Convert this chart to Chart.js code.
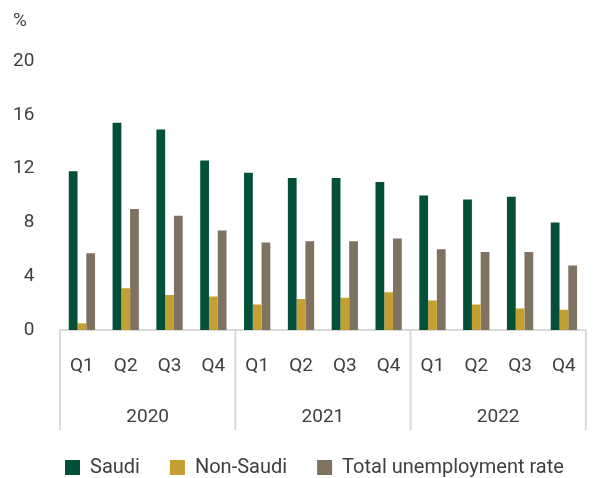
<!DOCTYPE html>
<html>
<head>
<meta charset="utf-8">
<script src="https://cdn.jsdelivr.net/npm/chart.js@4.4.1/dist/chart.umd.min.js"></script>
<style>
  body { margin: 0; background: #fff; }
  #wrap { width: 601px; height: 478px; }
</style>
</head>
<body>
<div id="wrap"><canvas id="unempChart" width="601" height="478"></canvas></div>
<script>
// dados
const quarters = ['Q1', 'Q2', 'Q3', 'Q4', 'Q1', 'Q2', 'Q3', 'Q4', 'Q1', 'Q2', 'Q3', 'Q4'];
const years = ['2020', '2021', '2022'];
const saudi = [11.8, 15.4, 14.9, 12.6, 11.7, 11.3, 11.3, 11.0, 10.0, 9.7, 9.9, 8.0];
const nonSaudi = [0.5, 3.1, 2.6, 2.5, 1.9, 2.3, 2.4, 2.8, 2.2, 1.9, 1.6, 1.5];
const total = [5.7, 9.0, 8.5, 7.4, 6.5, 6.6, 6.6, 6.8, 6.0, 5.8, 5.8, 4.8];
const yTicks = [0, 4, 8, 12, 16, 20];

const textColor = '#404040';
const lineColor = '#d9d9d9';

// linhas separadoras e rótulos dos anos abaixo dos trimestres
const yearAxis = {
    id: 'yearAxis',
    afterDraw(chart) {
        const { ctx, chartArea } = chart;
        const x = chart.scales.x;
        const perYear = quarters.length / years.length;
        const edges = [chartArea.left];
        for (let i = 1; i < years.length; i++) {
            edges.push((x.getPixelForValue(i * perYear - 1) + x.getPixelForValue(i * perYear)) / 2);
        }
        edges.push(chartArea.right);

        ctx.save();
        ctx.strokeStyle = lineColor;
        ctx.lineWidth = 2;
        edges.forEach(e => {
            ctx.beginPath();
            ctx.moveTo(e, chartArea.bottom);
            ctx.lineTo(e, chartArea.bottom + 100);
            ctx.stroke();
        });
        ctx.fillStyle = textColor;
        ctx.font = '19px Roboto';
        ctx.textAlign = 'center';
        ctx.textBaseline = 'middle';
        years.forEach((y, i) => {
            ctx.fillText(y, (edges[i] + edges[i + 1]) / 2, chartArea.bottom + 87);
        });
        // unidade no topo do eixo y
        ctx.textAlign = 'left';
        ctx.fillText('%', 13, 21);
        ctx.restore();
    }
};

const ctx = document.getElementById('unempChart').getContext('2d');
const unempChart = new Chart(ctx, {
    type: 'bar',
    data: {
        labels: quarters,
        datasets: [
            { label: 'Saudi', data: saudi, backgroundColor: '#03503a' },
            { label: 'Non-Saudi', data: nonSaudi, backgroundColor: '#c4a033' },
            { label: 'Total unemployment rate', data: total, backgroundColor: '#7f7261' }
        ]
    },
    options: {
        responsive: false,
        animation: false,
        layout: { padding: { left: 35, right: 5, top: 61, bottom: -9.5 } },
        datasets: { bar: { categoryPercentage: 0.6, barPercentage: 1.0 } },
        scales: {
            x: {
                grid: { display: false, drawTicks: false },
                border: { display: true, color: lineColor, width: 2 },
                ticks: { color: textColor, font: { family: 'Roboto', size: 19 }, padding: 25, maxRotation: 0 },
                afterFit(scale) { scale.height = 97.5; }
            },
            y: {
                min: yTicks[0],
                max: yTicks[yTicks.length - 1],
                grid: { display: false, drawTicks: false },
                border: { display: false },
                ticks: {
                    stepSize: yTicks[1] - yTicks[0],
                    color: textColor,
                    font: { family: 'Roboto', size: 19 },
                    // labels sit left of the plot, right-aligned near x=34
                    mirror: true,
                    crossAlign: 'far',
                    padding: -47
                },
                afterFit(scale) { scale.width = 25; }
            }
        },
        plugins: {
            legend: {
                position: 'bottom',
                align: 'start',
                labels: {
                    boxWidth: 15,
                    boxHeight: 15,
                    padding: 30,
                    color: textColor,
                    font: { family: 'Roboto', size: 20 }
                }
            },
            tooltip: { enabled: false }
        }
    },
    plugins: [yearAxis]
});
</script>
</body>
</html>
